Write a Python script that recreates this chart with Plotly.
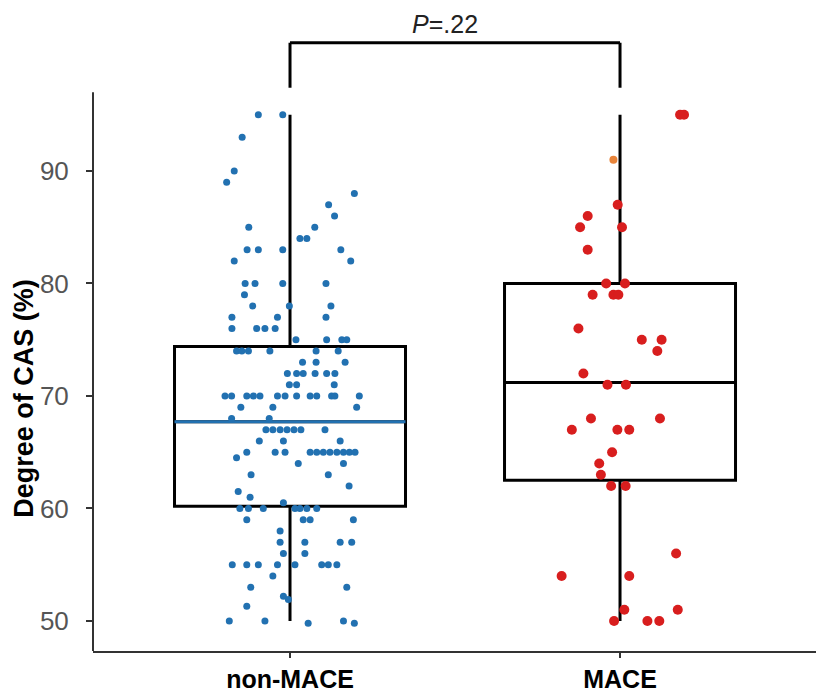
import plotly.graph_objects as go

# ---------------- data ----------------
categories = ["non-MACE", "MACE"]

non_mace_values = [
    95, 95, 93, 90, 89, 88, 87, 86, 85, 85, 84, 84, 83, 83, 83, 83, 82, 82,
    80, 80, 80, 80, 79, 78, 78, 78, 77, 77, 77, 76, 76, 76, 76,
    75, 75, 75, 75, 74, 74, 74, 74, 74, 74, 73, 73, 73,
    72, 72, 72, 72, 72, 72, 71, 71, 71,
    70, 70, 70, 70, 70, 70, 70, 70, 70, 70, 70, 70, 70,
    69, 69, 69, 68, 68, 67, 67, 67, 67, 67, 67, 67, 66, 66, 66,
    65, 65, 65, 65, 65, 65, 65, 65, 65, 65, 65,
    64.5, 64, 64, 63, 63, 62, 61.5, 61, 60.5,
    60, 60, 60, 60, 60, 60, 60, 59, 59, 59, 59, 58,
    57, 57, 57, 57, 56, 56,
    55, 55, 55, 55, 55, 55, 55, 55, 54, 53, 53, 52.2, 51.9, 51.3,
    50, 50, 49.8, 50, 49.8,
]
non_mace_jitter = [
    -0.096, -0.022, -0.145, -0.169, -0.192, 0.195, 0.117, 0.135, -0.125, 0.075,
    0.030, 0.051, -0.130, -0.096, -0.022, 0.154, -0.169, 0.184,
    -0.136, -0.106, -0.022, 0.109, -0.138, -0.113, 0.124, -0.002, -0.176, -0.038, 0.109,
    -0.176, -0.101, -0.076, -0.045,
    0.018, 0.111, 0.157, 0.172, -0.162, -0.146, -0.126, -0.061, 0.079, 0.146,
    0.038, 0.079, 0.167,
    -0.008, 0.020, 0.040, 0.076, 0.111, 0.136, -0.002, 0.020, 0.134,
    -0.197, -0.177, -0.131, -0.111, -0.091, -0.038, -0.015, 0.020, 0.061, 0.081,
    0.126, 0.136, 0.210,
    -0.149, -0.052, 0.202, -0.177, -0.063, -0.073, -0.052, -0.030, -0.009, 0.012,
    0.033, 0.106, -0.093, -0.020, 0.152,
    -0.131, -0.045, -0.015, 0.061, 0.081, 0.101, 0.121, 0.142, 0.162, 0.180, 0.197,
    -0.162, 0.162, 0.025, -0.118, 0.116, 0.179, -0.157, -0.121, -0.020,
    -0.152, -0.126, -0.081, 0.015, 0.030, 0.051, 0.081, -0.131, 0.040, 0.061, 0.192,
    -0.030,
    -0.030, 0.045, 0.152, 0.187, -0.020, 0.045,
    -0.175, -0.131, -0.096, -0.038, 0.015, 0.096, 0.116, 0.142, -0.052, -0.119,
    0.172, -0.020, -0.005, -0.131,
    -0.184, -0.076, 0.055, 0.162, 0.195,
]

mace_values = [
    95, 95, 87, 86, 85, 85, 83, 80, 80, 79, 79, 79, 76, 75, 75, 74, 72, 71, 71,
    68, 68, 67, 67, 67, 65, 64, 63, 62, 62, 56, 54, 54, 51, 51, 50, 50, 50,
]
mace_jitter = [
    0.182, 0.194, -0.007, -0.098, -0.121, 0.006, -0.098, -0.042, 0.015, -0.083,
    -0.020, -0.005, -0.126, 0.066, 0.126, 0.113, -0.111, -0.038, 0.018,
    -0.088, 0.121, -0.146, -0.008, 0.028, -0.024, -0.063, -0.058, -0.027, 0.017,
    0.170, -0.177, 0.028, 0.013, 0.175, -0.018, 0.083, 0.119,
]
mace_highlight_values = [91]
mace_highlight_jitter = [-0.020]

# box statistics
box_q1 = [60.2, 62.5]
box_median = [67.7, 71.2]
box_q3 = [74.4, 80.0]
box_low = [50, 50]
box_high = [95, 95]

p_label = "<i>P</i>=.22"
y_title = "Degree of CAS (%)"
y_ticks = [50, 60, 70, 80, 90]

# ---------------- styling ----------------
BLUE = "#2271b1"
RED = "#d81e1e"
ORANGE = "#e8843a"
BOX_W = 0.7
FONT = "Liberation Sans, Arial, sans-serif"

Y_MIN, Y_MAX = 47.333, 104.31

fig = go.Figure()

# boxes
for i in range(2):
    fig.add_trace(go.Box(
        x=[i], q1=[box_q1[i]], median=[box_median[i]], q3=[box_q3[i]],
        lowerfence=[box_low[i]], upperfence=[box_high[i]],
        width=BOX_W, line=dict(color="black", width=3),
        fillcolor="rgba(0,0,0,0)", boxpoints=False, whiskerwidth=0,
        hoverinfo="skip", showlegend=False,
    ))

# blue median line for non-MACE
fig.add_trace(go.Scatter(
    x=[0 - BOX_W / 2, 0 + BOX_W / 2], y=[box_median[0], box_median[0]],
    mode="lines", line=dict(color=BLUE, width=3), hoverinfo="skip", showlegend=False,
))

# points
fig.add_trace(go.Scatter(
    x=[0 + j for j in non_mace_jitter], y=non_mace_values, mode="markers",
    marker=dict(color=BLUE, size=7, line=dict(width=0)), showlegend=False,
))
fig.add_trace(go.Scatter(
    x=[1 + j for j in mace_jitter], y=mace_values, mode="markers",
    marker=dict(color=RED, size=10, line=dict(width=0)), showlegend=False,
))
fig.add_trace(go.Scatter(
    x=[1 + j for j in mace_highlight_jitter], y=mace_highlight_values, mode="markers",
    marker=dict(color=ORANGE, size=8, line=dict(width=0)), showlegend=False,
))

# significance bracket
bracket_top = 101.4
bracket_bottom = 97.4
fig.add_shape(type="line", xref="x", yref="y", x0=0, x1=0, y0=bracket_bottom, y1=bracket_top,
              line=dict(color="black", width=3))
fig.add_shape(type="line", xref="x", yref="y", x0=1, x1=1, y0=bracket_bottom, y1=bracket_top,
              line=dict(color="black", width=3))
fig.add_shape(type="line", xref="x", yref="y", x0=0, x1=1, y0=bracket_top, y1=bracket_top,
              line=dict(color="black", width=3))
fig.add_annotation(x=0.47, y=101.75, xref="x", yref="y", text=p_label, showarrow=False,
                   font=dict(family=FONT, size=25, color="#222"), yanchor="bottom",
                   borderpad=0)

# y axis line (only up to ~97)
y_line_top = (97.0 - Y_MIN) / (Y_MAX - Y_MIN)
fig.add_shape(type="line", xref="paper", yref="paper", x0=0, x1=0, y0=0, y1=y_line_top,
              line=dict(color="#333", width=2))

# y axis title
fig.add_annotation(x=-0.095, y=0.395, xref="paper", yref="paper", text=f"<b>{y_title}</b>",
                   textangle=-90, showarrow=False, xanchor="center", yanchor="middle",
                   font=dict(family=FONT, size=27, color="black"))

# page body has an 8px margin, so the figure is 8px smaller than the window
fig.update_layout(
    width=816, height=688,
    margin=dict(l=85, r=4, t=2, b=45, autoexpand=False),
    paper_bgcolor="white", plot_bgcolor="white",
    showlegend=False,
    xaxis=dict(
        range=[-0.597, 1.606], tickvals=[0, 1], ticktext=categories,
        showline=True, linecolor="#333", linewidth=2, ticks="outside", ticklen=5,
        tickcolor="#333", tickwidth=1.5, showgrid=False, zeroline=False,
        automargin=False, ticklabelstandoff=0,
        tickfont=dict(family=FONT, size=25, color="black", weight="bold"),
    ),
    yaxis=dict(
        range=[Y_MIN, Y_MAX], tickvals=y_ticks, showline=False, ticks="outside",
        ticklen=6, tickcolor="#333", tickwidth=1.5, showgrid=False, zeroline=False,
        automargin=False,
        tickfont=dict(family=FONT, size=26, color="#555"), ticklabelstandoff=12,
    ),
)

fig.write_html("out.html")
